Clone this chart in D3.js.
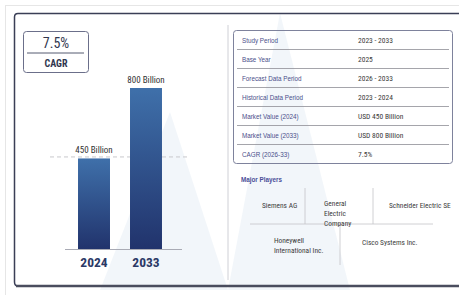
<!DOCTYPE html>
<html>
<head>
<meta charset="utf-8">
<script src="https://cdn.jsdelivr.net/npm/d3@7"></script>
<style>
  html, body { margin: 0; padding: 0; background: #fff; }
  svg { display: block; }
  .narrow { font-family: "Liberation Sans Narrow", "Arial Narrow", "Roboto Condensed", "Liberation Sans", sans-serif; }
</style>
</head>
<body>
<div id="chart"></div>
<script>
var years = ["2024", "2033"];
var values = [450, 800];
var valueLabels = ["450 Billion", "800 Billion"];
var cagr = "7.5%";
var cagrLabel = "CAGR";

var tableLabels = ["Study Period", "Base Year", "Forecast Data Period", "Historical Data Period",
  "Market Value (2024)", "Market Value (2033)", "CAGR (2026-33)"];
var tableValues = ["2023 - 2033", "2025", "2026 - 2033", "2023 - 2024",
  "USD 450 Billion", "USD 800 Billion", "7.5%"];

var playersTitle = "Major Players";
var players = [["Siemens AG"], ["General", "Electric", "Company"], ["Schneider Electric SE"],
  ["Honeywell", "International Inc."], ["Cisco Systems Inc."]];

var W = 459, H = 295;
// where each player name sits in the grid
var playerSlots = [[262, 208], [324, 206], [389, 208], [274, 243], [362, 245]];

var svg = d3.select("#chart").append("svg")
  .attr("width", W)
  .attr("height", H);

var defs = svg.append("defs");
var grad = defs.append("linearGradient")
  .attr("id", "barGrad")
  .attr("x1", 0).attr("y1", 0).attr("x2", 0).attr("y2", 1);
grad.append("stop").attr("offset", "0%").attr("stop-color", "#3f70aa");
grad.append("stop").attr("offset", "100%").attr("stop-color", "#21336c");

// watermark
svg.append("path")
  .attr("d", "M100,290 L170,112 L228,290 L280,13 L350,290 Z")
  .attr("fill", "#e8eef6")
  .attr("opacity", 0.55);

// outer card
svg.append("rect")
  .attr("x", 5.5).attr("y", 5.5)
  .attr("width", W).attr("height", H)
  .attr("fill", "none")
  .attr("stroke", "#e6e6e6");

svg.append("path")
  .attr("d", "M" + W + ",13.5 L18,13.5 Q14.5,13.5 14.5,17 L14.5,282 Q14.5,286 18,286 L" + W + ",286")
  .attr("fill", "none")
  .attr("stroke", "#3a3e56")
  .attr("stroke-width", 1.5);
svg.append("line")
  .attr("x1", 16).attr("x2", W)
  .attr("y1", 286).attr("y2", 286)
  .attr("stroke", "#4a4d5e")
  .attr("stroke-width", 2.5);

// divider between the two panels
svg.append("line")
  .attr("x1", 228).attr("x2", 228)
  .attr("y1", 25).attr("y2", 280)
  .attr("stroke", "#cfd0d6");

// CAGR box
svg.append("rect")
  .attr("x", 23.5).attr("y", 31.5)
  .attr("width", 65).attr("height", 41)
  .attr("rx", 3)
  .attr("fill", "#fff")
  .attr("stroke", "#6b6f8a");
svg.append("line")
  .attr("x1", 27).attr("x2", 84)
  .attr("y1", 53).attr("y2", 53)
  .attr("stroke", "#555a70");
svg.append("text")
  .attr("class", "narrow")
  .attr("x", 56).attr("y", 48)
  .attr("text-anchor", "middle")
  .attr("font-size", 14)
  .attr("fill", "#30364f")
  .text(cagr);
svg.append("text")
  .attr("class", "narrow")
  .attr("x", 56).attr("y", 67)
  .attr("text-anchor", "middle")
  .attr("font-size", 10)
  .attr("font-weight", "bold")
  .attr("fill", "#30364f")
  .text(cagrLabel);

// bars
var x = d3.scaleBand()
  .domain(years)
  .range([58, 182])
  .padding(0.385);

var y = d3.scaleLinear()
  .domain([0, 800])
  .range([249, 88]);

svg.append("line")
  .attr("x1", 50).attr("x2", 190)
  .attr("y1", y(values[0]) - 1.5).attr("y2", y(values[0]) - 1.5)
  .attr("stroke", "#c8c8cc")
  .attr("stroke-dasharray", "4,3");

svg.selectAll(".bar")
  .data(values)
  .join("rect")
    .attr("class", "bar")
    .attr("x", (d, i) => x(years[i]))
    .attr("y", d => y(d))
    .attr("width", x.bandwidth())
    .attr("height", d => y(0) - y(d))
    .attr("fill", "url(#barGrad)");

svg.append("line")
  .attr("x1", 65).attr("x2", 182)
  .attr("y1", y(0) + 0.5).attr("y2", y(0) + 0.5)
  .attr("stroke", "#a9abb5");

svg.selectAll(".vlabel")
  .data(values)
  .join("text")
    .attr("class", "vlabel narrow")
    .attr("x", (d, i) => x(years[i]) + x.bandwidth() / 2)
    .attr("y", d => y(d) - 5)
    .attr("text-anchor", "middle")
    .attr("font-size", 9)
    .attr("fill", "#333")
    .text((d, i) => valueLabels[i]);

svg.selectAll(".year")
  .data(years)
  .join("text")
    .attr("class", "year narrow")
    .attr("x", d => x(d) + x.bandwidth() / 2)
    .attr("y", 267)
    .attr("text-anchor", "middle")
    .attr("font-size", 13.5)
    .attr("font-weight", "bold")
    .attr("fill", "#2b3966")
    .text(d => d);

// info table
var rowH = 19, tTop = 30;
svg.append("rect")
  .attr("x", 233.5).attr("y", tTop + 0.5)
  .attr("width", 219).attr("height", rowH * tableLabels.length)
  .attr("rx", 3)
  .attr("fill", "none")
  .attr("stroke", "#7e829c");

svg.selectAll(".sep")
  .data(d3.range(1, tableLabels.length))
  .join("line")
    .attr("class", "sep")
    .attr("x1", 237).attr("x2", 449)
    .attr("y1", d => tTop + d * rowH + 0.5)
    .attr("y2", d => tTop + d * rowH + 0.5)
    .attr("stroke", "#8e8e96")
    .attr("stroke-width", 0.8);

svg.selectAll(".tlabel")
  .data(tableLabels)
  .join("text")
    .attr("class", "tlabel")
    .attr("x", 242)
    .attr("y", (d, i) => tTop + i * rowH + 13)
    .attr("font-family", "Liberation Sans, sans-serif")
    .attr("font-size", 6.3)
    .attr("fill", "#4a4f8a")
    .text(d => d);

svg.selectAll(".tvalue")
  .data(tableValues)
  .join("text")
    .attr("class", "tvalue narrow")
    .attr("x", 358)
    .attr("y", (d, i) => tTop + i * rowH + 13)
    .attr("font-size", 7.5)
    .attr("fill", "#3a3a3a")
    .text(d => d);

// major players
svg.append("text")
  .attr("x", 241).attr("y", 182)
  .attr("font-family", "Liberation Sans, sans-serif")
  .attr("font-size", 6.3)
  .attr("font-weight", "bold")
  .attr("fill", "#4a4e98")
  .text(playersTitle);

var grid = [[305, 188, 305, 224], [373, 188, 373, 224], [250, 224, 433, 224], [340, 224, 340, 265]];
svg.selectAll(".grid")
  .data(grid)
  .join("line")
    .attr("class", "grid")
    .attr("x1", d => d[0]).attr("y1", d => d[1])
    .attr("x2", d => d[2]).attr("y2", d => d[3])
    .attr("stroke", "#c4c4c8")
    .attr("stroke-width", 0.8);

var pl = svg.selectAll(".player")
  .data(players)
  .join("text")
    .attr("class", "player narrow")
    .attr("x", (d, i) => playerSlots[i][0])
    .attr("y", (d, i) => playerSlots[i][1])
    .attr("font-size", 7.4)
    .attr("fill", "#3c3c3c");
pl.selectAll("tspan")
  .data((d, i) => d.map(t => ({t: t, x: playerSlots[i][0]})))
  .join("tspan")
    .attr("x", d => d.x)
    .attr("dy", (d, j) => j == 0 ? 0 : 10)
    .text(d => d.t);
</script>
</body>
</html>
